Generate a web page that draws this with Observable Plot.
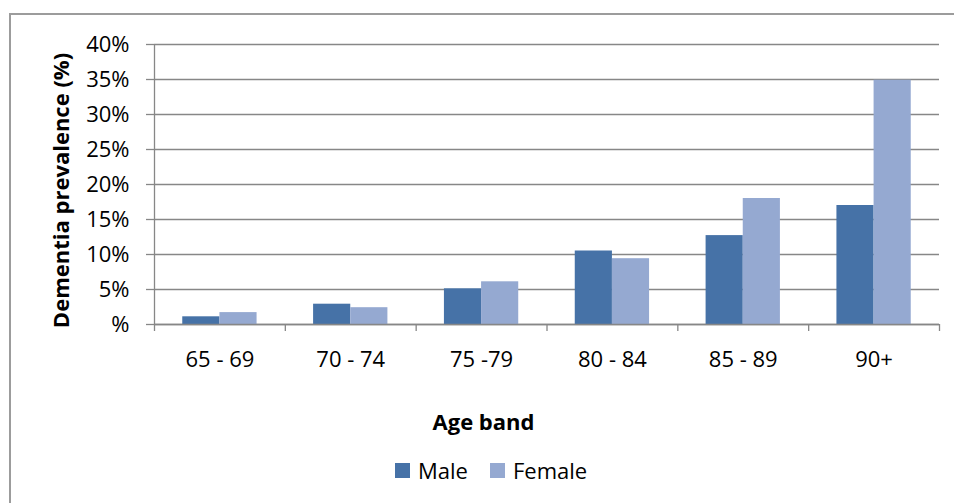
<!DOCTYPE html>
<html>
<head>
<meta charset="utf-8">
<script src="https://cdn.jsdelivr.net/npm/d3@7"></script>
<script src="https://cdn.jsdelivr.net/npm/@observablehq/plot@0.6"></script>
<style>
  html, body { margin: 0; padding: 0; background: #fff; }
  #wrap { position: relative; width: 954px; height: 503px; overflow: hidden; font-family: "Open Sans", sans-serif; color: #000; }
  #border { position: absolute; left: 9px; top: 13px; width: 980px; height: 520px; border: 2px solid #9c9c9c; box-sizing: border-box; pointer-events: none; }
  #xtitle { position: absolute; left: 0; width: 967px; top: 405px; text-align: center; font-weight: bold; font-size: 22px; line-height: 32px; }
  #legend { position: absolute; left: 395px; top: 454px; font-size: 22px; line-height: 32px; display: flex; align-items: center; white-space: nowrap; }
  #legend .sw { display: inline-block; width: 15px; height: 15px; margin-right: 8px; }
  #legend .item { display: flex; align-items: center; margin-right: 22px; }
  #chart { position: absolute; left: 0; top: 0; }
</style>
</head>
<body>
<div id="wrap">
  <div id="chart"></div>
  <div id="xtitle">Age band</div>
  <div id="legend"></div>
  <div id="border"></div>
</div>
<script>
const bands = ["65 - 69", "70 - 74", "75 -79", "80 - 84", "85 - 89", "90+"];
const maleValues = [1.1, 2.9, 5.1, 10.5, 12.7, 17.0];
const femaleValues = [1.7, 2.4, 6.1, 9.4, 18.0, 34.9];
const seriesNames = ["Male", "Female"];
const seriesColors = ["#4672a7", "#95a9d1"];
const yTicks = [0, 5, 10, 15, 20, 25, 30, 35, 40];
const yTitle = "Dementia prevalence (%)";

const rows = [];
bands.forEach((b, i) => {
  rows.push({band: b, i, sex: "Male", value: maleValues[i]});
  rows.push({band: b, i, sex: "Female", value: femaleValues[i]});
});

const barW = 0.284; // fraction of a category band per bar
const gridColor = "#878787";

const chart = Plot.plot({
  width: 954,
  height: 503,
  marginLeft: 154,
  marginRight: 15,
  marginTop: 44,
  marginBottom: 179,
  style: {fontFamily: "'Open Sans', sans-serif", fontSize: "22px", color: "#000", background: "transparent"},
  x: {domain: [0, bands.length], axis: null},
  y: {domain: [0, 40], axis: null},
  color: {domain: seriesNames, range: seriesColors},
  marks: [
    Plot.ruleY(yTicks, {stroke: gridColor, strokeWidth: 1.3}),
    Plot.rectY(rows, {
      x1: d => d.i + 0.5 - (d.sex === "Male" ? barW : 0),
      x2: d => d.i + 0.5 + (d.sex === "Female" ? barW : 0),
      y: "value",
      fill: "sex"
    }),
    Plot.ruleY([0], {stroke: gridColor, strokeWidth: 1.3}),
    Plot.ruleX([0], {stroke: gridColor, strokeWidth: 1.3}),
    Plot.axisY({
      ticks: yTicks, tickSize: 8, tickPadding: 17,
      tickFormat: d => d === 0 ? "%" : d + "%",
      stroke: gridColor, strokeWidth: 1.3, strokeOpacity: 1,
      label: null, fontSize: 22
    }),
    Plot.axisX({
      ticks: d3.range(0, bands.length + 1), tickSize: 7,
      tickFormat: () => "", stroke: gridColor, strokeWidth: 1.3, strokeOpacity: 1, label: null
    }),
    Plot.axisX({
      ticks: bands.map((b, i) => i + 0.5), tickSize: 0, tickPadding: 27,
      tickFormat: d => bands[Math.floor(d)], label: null, fontSize: 22
    }),
    Plot.text([yTitle], {
      frameAnchor: "left", textAnchor: "middle", lineAnchor: "middle", rotate: -90, dx: -93, dy: 6,
      fontWeight: "bold", fontSize: 22, fill: "#000"
    })
  ]
});
document.getElementById("chart").appendChild(chart);

const legend = document.getElementById("legend");
seriesNames.forEach((name, k) => {
  const item = document.createElement("span");
  item.className = "item";
  const sw = document.createElement("span");
  sw.className = "sw";
  sw.style.background = seriesColors[k];
  item.appendChild(sw);
  item.appendChild(document.createTextNode(name));
  legend.appendChild(item);
});
</script>
</body>
</html>
